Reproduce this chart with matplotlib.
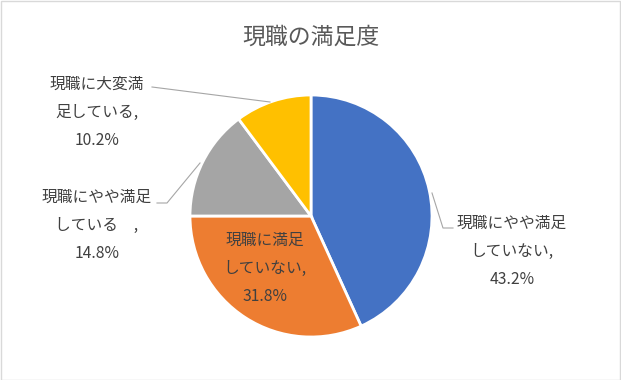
import matplotlib
matplotlib.use("Agg")
import matplotlib.pyplot as plt
from matplotlib.patches import Rectangle

plt.rcParams['font.family'] = ['Noto Sans CJK JP', 'DejaVu Sans']

title = "現職の満足度"
categories = ["現職にやや満足\nしていない", "現職に満足\nしていない", "現職にやや満足\nしている　", "現職に大変満\n足している"]
values = [43.2, 31.8, 14.8, 10.2]
colors = ["#4472C4", "#ED7D31", "#A5A5A5", "#FFC000"]

W, H = 621, 380
fig = plt.figure(figsize=(W / 100, H / 100), dpi=100)
ax = fig.add_axes([0, 0, 1, 1])

cx, cy, r = 311, H - 216, 121
ax.pie(values, colors=colors, startangle=90, counterclock=False,
       center=(cx, cy), radius=r, frame=True,
       wedgeprops=dict(edgecolor='white', linewidth=2))
ax.set_xlim(0, W)
ax.set_ylim(0, H)
ax.set_aspect('equal')
ax.axis('off')

# border
fig.patches.append(Rectangle((0.5 / W, 0.5 / H), 1 - 1.5 / W, 1 - 1.5 / H,
                             transform=fig.transFigure, fill=False,
                             edgecolor='#D9D9D9', linewidth=1))

ax.text(W / 2, H - 37, title, ha='center', va='center', fontsize=16.5, color='#595959')

txt_color = '#404040'
fs = 11.3
label_pos = [(512, 251), (265, 268), (97, 225), (97, 112)]
for cat, v, (x, y) in zip(categories, values, label_pos):
    s = f"{cat},\n{v:.1f}%"
    ax.text(x, H - y, s, ha='center', va='center', fontsize=fs, color=txt_color,
            linespacing=1.85)

line_kw = dict(color='#A6A6A6', linewidth=0.8)
# leader lines
ax.plot([432, 443, 453], [H - 193, H - 228, H - 228], **line_kw)
ax.plot([157, 167, 200], [H - 203, H - 203, H - 163], **line_kw)
ax.plot([152, 270], [H - 87, H - 102], **line_kw)

fig.savefig("out.png", dpi=100)
